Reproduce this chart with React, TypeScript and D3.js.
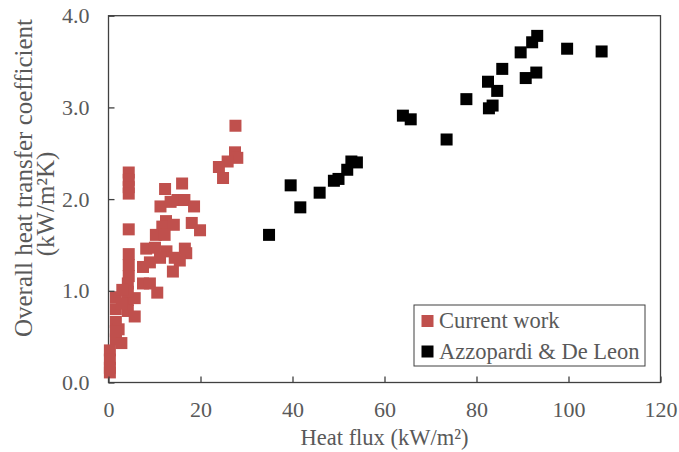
import React, { useEffect, useRef } from "react";
import * as d3 from "d3";

// Current work: heat flux (kW/m2) and overall heat transfer coefficient (kW/m2K)
const currentHeatFlux = [
  27.6, 27.5, 28.0, 25.9, 24.0, 24.9,
  4.4, 4.4, 4.4, 4.4, 4.4,
  12.3, 16.0, 11.3, 13.5, 15.0, 16.5, 18.6, 12.5, 11.7, 14.2, 18.1, 19.9,
  10.3, 12.2, 8.2, 10.1, 12.6, 16.6, 16.9, 11.2, 14.4, 15.5, 9.0, 14.0, 7.5,
  4.4, 4.4, 4.4,
  7.5, 9.0, 4.2, 10.6, 1.6, 4.2, 5.7, 1.6, 4.2, 5.7, 1.6, 2.2, 1.6, 2.8,
  4.2, 2.9, 1.6, 3.0,
  0.3, 0.3, 0.3, 0.3,
];
const currentHtc = [
  2.80, 2.51, 2.45, 2.41, 2.35, 2.23,
  2.29, 2.21, 2.13, 2.06, 1.67,
  2.11, 2.17, 1.92, 1.97, 1.99, 1.99, 1.92, 1.76, 1.70, 1.72, 1.74, 1.66,
  1.61, 1.61, 1.46, 1.47, 1.43, 1.46, 1.41, 1.36, 1.36, 1.33, 1.31, 1.21, 1.26,
  1.40, 1.28, 1.16,
  1.08, 1.08, 1.08, 0.98, 0.93, 0.90, 0.92, 0.80, 0.78, 0.72, 0.66, 0.58, 0.47, 0.43,
  0.99, 0.86, 0.56, 1.01,
  0.35, 0.25, 0.16, 0.11,
];

// Azzopardi & De Leon
const azzHeatFlux = [
  34.9, 39.6, 41.7, 45.9, 49.0, 50.0, 51.9, 52.8, 54.0, 64.0, 65.7, 73.5, 77.8,
  82.7, 83.5, 84.5, 82.5, 85.6, 90.7, 93.0, 89.6, 92.1, 93.2, 99.7, 107.2,
];
const azzHtc = [
  1.61, 2.15, 1.91, 2.07, 2.20, 2.22, 2.32, 2.41, 2.40, 2.91, 2.87, 2.65, 3.09,
  2.99, 3.02, 3.18, 3.28, 3.42, 3.32, 3.38, 3.60, 3.71, 3.78, 3.64, 3.61,
];

const xTicks = [0, 20, 40, 60, 80, 100, 120];
const yTicks = [0, 1, 2, 3, 4];
const seriesNames = ["Current work", "Azzopardi & De Leon"];
const seriesColors = ["#C0504D", "#000000"];
const yTitleLines = ["Overall heat transfer coefficient", "(kW/m²K)"];

const W = 679;
const H = 452;
const FONT = "'Liberation Serif', 'Times New Roman', serif";
const TEXT = "#595959";
const LINE = "#404040";

export default function App() {
  const ref = useRef<SVGSVGElement>(null);

  useEffect(() => {
    const svg = d3.select(ref.current);
    svg.selectAll("*").remove();

    const x = d3.scaleLinear().domain([0, 120]).range([108.5, 660.5]);
    const y = d3.scaleLinear().domain([0, 4]).range([382.5, 15.7]);
    const m = 12; // marker size

    // plot frame
    svg
      .append("rect")
      .attr("x", x(0))
      .attr("y", y(4))
      .attr("width", x(120) - x(0))
      .attr("height", y(0) - y(4))
      .attr("fill", "none")
      .attr("stroke", LINE)
      .attr("stroke-width", 1.3);

    // data
    const series = [
      { xs: currentHeatFlux, ys: currentHtc, color: seriesColors[0] },
      { xs: azzHeatFlux, ys: azzHtc, color: seriesColors[1] },
    ];
    series.forEach((s) => {
      svg
        .append("g")
        .selectAll("rect")
        .data(s.xs.map((v, i) => [v, s.ys[i]]))
        .enter()
        .append("rect")
        .attr("x", (d) => x(d[0]) - m / 2)
        .attr("y", (d) => y(d[1]) - m / 2)
        .attr("width", m)
        .attr("height", m)
        .attr("fill", s.color);
    });

    // axes, ticks inside
    const gx = svg
      .append("g")
      .attr("transform", `translate(0,${y(0)})`)
      .call(
        d3
          .axisBottom(x)
          .tickValues(xTicks)
          .tickFormat(d3.format("d"))
          .tickSizeInner(-6)
          .tickSizeOuter(0)
          .tickPadding(19)
      );
    const gy = svg
      .append("g")
      .attr("transform", `translate(${x(0)},0)`)
      .call(
        d3
          .axisLeft(y)
          .tickValues(yTicks)
          .tickFormat(d3.format(".1f"))
          .tickSizeInner(-6)
          .tickSizeOuter(0)
          .tickPadding(19)
      );
    [gx, gy].forEach((g) => {
      g.select(".domain").remove();
      g.selectAll("line").attr("stroke", LINE).attr("stroke-width", 1.3);
      g.selectAll("text")
        .attr("fill", TEXT)
        .attr("font-family", FONT)
        .attr("font-size", 22);
    });

    // axis titles
    svg
      .append("text")
      .attr("x", (x(0) + x(120)) / 2)
      .attr("y", 445)
      .attr("text-anchor", "middle")
      .attr("fill", TEXT)
      .attr("font-family", FONT)
      .attr("font-size", 22.5)
      .text("Heat flux (kW/m²)");

    // y title: two rotated lines, centred by measured length
    const yTitlePos = [
      { bx: 32, cy: 178 },
      { bx: 54, cy: 204 },
    ];
    yTitleLines.forEach((line, i) => {
      const t = svg
        .append("text")
        .attr("fill", TEXT)
        .attr("font-family", FONT)
        .attr("font-size", 25)
        .text(line);
      const len = (t.node() as SVGTextElement).getComputedTextLength();
      const p = yTitlePos[i];
      t.attr("transform", `translate(${p.bx},${p.cy + len / 2}) rotate(-90)`);
    });

    // legend
    const lg = svg.append("g");
    lg.append("rect")
      .attr("x", 414)
      .attr("y", 305)
      .attr("width", 231)
      .attr("height", 61)
      .attr("fill", "#fff")
      .attr("stroke", LINE)
      .attr("stroke-width", 1);
    seriesNames.forEach((name, i) => {
      const cy = 321 + i * 30.5;
      lg.append("rect")
        .attr("x", 427.5 - m / 2)
        .attr("y", cy - m / 2)
        .attr("width", m)
        .attr("height", m)
        .attr("fill", seriesColors[i]);
      lg.append("text")
        .attr("x", 439)
        .attr("y", cy + 7)
        .attr("fill", TEXT)
        .attr("font-family", FONT)
        .attr("font-size", 22.5)
        .text(name);
    });
  }, []);

  return (
    <svg
      ref={ref}
      width={W}
      height={H}
      style={{ position: "absolute", left: 0, top: 0, background: "#fff" }}
    />
  );
}
